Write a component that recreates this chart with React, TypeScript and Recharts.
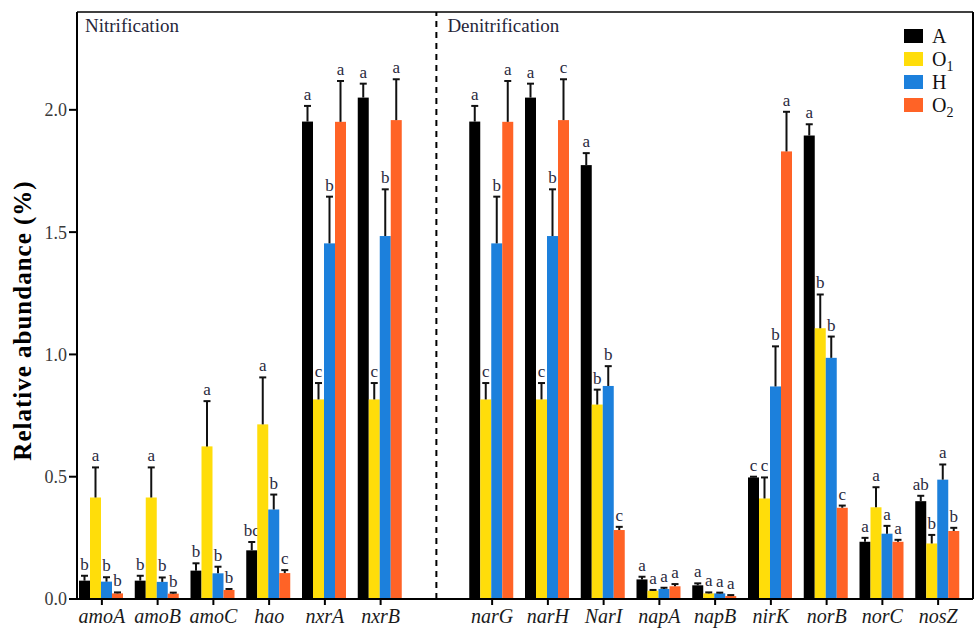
import React from 'react';
import { BarChart, Bar, XAxis, YAxis, ReferenceLine, Legend } from 'recharts';

const genes = ['amoA', 'amoB', 'amoC', 'hao', 'nxrA', 'nxrB', 'gap', 'narG', 'narH', 'NarI', 'napA', 'napB', 'nirK', 'norB', 'norC', 'nosZ'];

const meanA = [0.075, 0.075, 0.116, 0.199, 1.952, 2.05, null, 1.952, 2.05, 1.774, 0.08, 0.056, 0.497, 1.895, 0.234, 0.4];
const errA = [0.02, 0.02, 0.03, 0.034, 0.064, 0.057, null, 0.064, 0.057, 0.049, 0.011, 0.008, 0.003, 0.046, 0.016, 0.022];
const sigA = ['b', 'b', 'b', 'bc', 'a', 'a', '', 'a', 'a', 'a', 'a', 'a', 'c', 'a', 'a', 'ab'];

const meanO1 = [0.415, 0.415, 0.624, 0.714, 0.816, 0.816, null, 0.816, 0.816, 0.795, 0.034, 0.023, 0.411, 1.107, 0.375, 0.227];
const errO1 = [0.123, 0.123, 0.185, 0.192, 0.067, 0.067, null, 0.067, 0.067, 0.061, 0.003, 0.004, 0.086, 0.138, 0.082, 0.035];
const sigO1 = ['a', 'a', 'a', 'a', 'c', 'c', '', 'c', 'c', 'b', 'a', 'a', 'c', 'b', 'a', 'b'];

const meanH = [0.071, 0.07, 0.105, 0.366, 1.454, 1.484, null, 1.454, 1.484, 0.871, 0.041, 0.023, 0.869, 0.986, 0.267, 0.488];
const errH = [0.018, 0.018, 0.027, 0.061, 0.191, 0.191, null, 0.191, 0.191, 0.081, 0.005, 0.003, 0.164, 0.087, 0.032, 0.062];
const sigH = ['b', 'b', 'b', 'b', 'b', 'b', '', 'b', 'b', 'b', 'a', 'a', 'b', 'b', 'a', 'a'];

const meanO2 = [0.023, 0.022, 0.037, 0.106, 1.951, 1.958, null, 1.951, 1.958, 0.282, 0.052, 0.012, 1.83, 0.373, 0.234, 0.278];
const errO2 = [0.004, 0.004, 0.004, 0.012, 0.167, 0.167, null, 0.167, 0.167, 0.013, 0.009, 0.004, 0.162, 0.009, 0.008, 0.013];
const sigO2 = ['b', 'b', 'b', 'c', 'a', 'a', '', 'a', 'c', 'c', 'a', 'a', 'a', 'c', 'a', 'b'];

const yTicks = [0, 0.5, 1.0, 1.5, 2.0];

const COLORS = { A: '#000000', O1: '#FFDD0A', H: '#1C80DC', O2: '#FF6326' };
const SERIF = '"Liberation Serif", "Times New Roman", serif';
const LETTER_COLOR = '#2a2a40';

const data = genes.map((g, i) => ({
  gene: g,
  A: meanA[i], eA: errA[i], sA: sigA[i],
  O1: meanO1[i], eO1: errO1[i], sO1: sigO1[i],
  H: meanH[i], eH: errH[i], sH: sigH[i],
  O2: meanO2[i], eO2: errO2[i], sO2: sigO2[i],
}));

const makeShape = (key: string) => (props: any) => {
  const { x, y, width, height, payload } = props;
  const v = payload[key];
  if (v == null || !height) return <g />;
  const ppu = height / v;
  const errPx = (payload['e' + key] || 0) * ppu;
  const cx = x + width / 2;
  const top = y - errPx;
  return (
    <g>
      <rect x={x} y={y} width={width} height={height} fill={COLORS[key as keyof typeof COLORS]} />
      <line x1={cx} x2={cx} y1={y} y2={top} stroke="#111" strokeWidth={2} />
      <line x1={cx - 3.5} x2={cx + 3.5} y1={top} y2={top} stroke="#111" strokeWidth={2} />
      <text x={cx} y={top - 6} textAnchor="middle" fontFamily={SERIF} fontSize={17} fill={LETTER_COLOR}>
        {payload['s' + key]}
      </text>
    </g>
  );
};

const XTick = (props: any) => {
  const { x, y, payload } = props;
  if (payload.value === 'gap') return <g />;
  return (
    <g>
      <line x1={x} x2={x} y1={y - 6} y2={y} stroke="#000" strokeWidth={2} />
      <text x={x} y={y + 18} textAnchor="middle" fontFamily={SERIF} fontStyle="italic" fontSize={20} fill="#1a1a1a">
        {payload.value}
      </text>
    </g>
  );
};

const legendItems = [
  { key: 'A', label: 'A', sub: '' },
  { key: 'O1', label: 'O', sub: '1' },
  { key: 'H', label: 'H', sub: '' },
  { key: 'O2', label: 'O', sub: '2' },
];

const renderLegend = () => (
  <svg width={75} height={100}>
    {legendItems.map((it, i) => {
      const top = 5 + i * 23;
      return (
        <g key={it.key}>
          <rect x={4} y={top} width={19} height={14} fill={COLORS[it.key as keyof typeof COLORS]} />
          <text x={32} y={top + 14} fontFamily={SERIF} fontSize={20} fill="#111">
            {it.label}
            {it.sub ? <tspan fontSize={14} dy={5}>{it.sub}</tspan> : null}
          </text>
        </g>
      );
    })}
  </svg>
);

export default function App() {
  return (
    <div style={{ position: 'absolute', left: 0, top: 0, width: 977, height: 628, background: '#fff' }}>
      <BarChart
        width={977}
        height={628}
        data={data}
        margin={{ top: 12, right: 2, left: 0, bottom: 0 }}
        barCategoryGap={5}
        barGap={0}
      >
        <XAxis
          dataKey="gene"
          height={29}
          interval={0}
          padding={{ left: -3, right: 7 }}
          axisLine={{ stroke: '#000', strokeWidth: 2 }}
          tickLine={false}
          tickSize={6}
          tickMargin={0}
          tick={<XTick />}
        />
        <YAxis
          width={77}
          domain={[0, 2.4]}
          ticks={yTicks}
          allowDataOverflow
          tickFormatter={(v: number) => v.toFixed(1)}
          tickSize={8}
          tickMargin={2}
          axisLine={{ stroke: '#000', strokeWidth: 2 }}
          tickLine={{ stroke: '#000', strokeWidth: 2 }}
          tick={{ fontFamily: SERIF, fontSize: 18, fill: '#3a3a3a' }}
          label={(p: any) => {
            const vb = p.viewBox || {};
            const cx = 31;
            const cy = (vb.y ?? 12) + (vb.height ?? 587) / 2 + 15;
            return (
              <text
                x={cx}
                y={cy}
                transform={`rotate(-90, ${cx}, ${cy})`}
                textAnchor="middle"
                fontFamily={SERIF}
                fontWeight="bold"
                fontSize={25}
                letterSpacing={1}
                fill="#000"
              >
                Relative abundance (%)
              </text>
            );
          }}
        />
        <YAxis
          yAxisId="r"
          orientation="right"
          width={2}
          domain={[0, 2.4]}
          tick={false}
          tickLine={false}
          axisLine={{ stroke: '#000', strokeWidth: 2 }}
        />
        <ReferenceLine
          y={2.4}
          stroke="#000"
          strokeWidth={1.5}
          label={(p: any) => {
            const vb = p.viewBox || {};
            return (
              <text x={(vb.x ?? 77) + 8} y={(vb.y ?? 12) + 20} fontFamily={SERIF} fontSize={19} fill="#26263a">
                Nitrification
              </text>
            );
          }}
        />
        <ReferenceLine
          x="gap"
          stroke="#000"
          strokeWidth={2}
          strokeDasharray="6 5"
          label={(p: any) => {
            const vb = p.viewBox || {};
            return (
              <text x={(vb.x ?? 441) + 11} y={(vb.y ?? 12) + 20} fontFamily={SERIF} fontSize={19} fill="#26263a">
                Denitrification
              </text>
            );
          }}
        />
        <Legend
          layout="horizontal"
          verticalAlign="middle"
          align="center"
          content={renderLegend}
          wrapperStyle={{ position: 'absolute', left: 900, top: 24, width: 75, height: 100 }}
        />
        <Bar dataKey="A" fill={COLORS.A} isAnimationActive={false} shape={makeShape('A')} />
        <Bar dataKey="O1" fill={COLORS.O1} isAnimationActive={false} shape={makeShape('O1')} />
        <Bar dataKey="H" fill={COLORS.H} isAnimationActive={false} shape={makeShape('H')} />
        <Bar dataKey="O2" fill={COLORS.O2} isAnimationActive={false} shape={makeShape('O2')} />
      </BarChart>
    </div>
  );
}
